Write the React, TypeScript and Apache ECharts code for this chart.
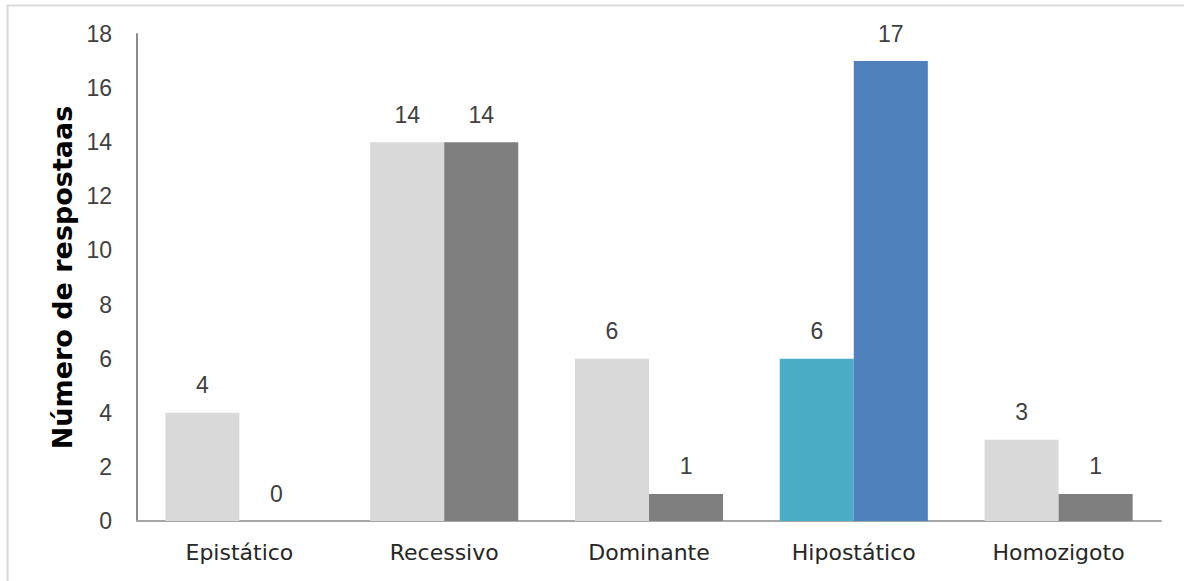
import React, { useEffect, useRef } from "react";
import * as echarts from "echarts";

const categories = ["Epistático", "Recessivo", "Dominante", "Hipostático", "Homozigoto"];
const seriesA = [4, 14, 6, 6, 3];
const seriesB = [0, 14, 1, 17, 1];
const colorsA = ["#d9d9d9", "#d9d9d9", "#d9d9d9", "#4bacc6", "#d9d9d9"];
const colorsB = ["#7f7f7f", "#7f7f7f", "#7f7f7f", "#4f81bd", "#7f7f7f"];
const yAxisTitle = "Número de respostaas";

const NUM_FONT = "'Liberation Sans', Arial, sans-serif";
const TEXT_FONT = "'DejaVu Sans', sans-serif";

export default function App() {
  const ref = useRef<HTMLDivElement>(null);

  useEffect(() => {
    if (!ref.current) return;
    const chart = echarts.init(ref.current, null, { renderer: "svg" });

    const label = {
      show: true,
      position: "top",
      distance: 16,
      color: "#404040",
      fontSize: 23,
      fontFamily: NUM_FONT,
    };

    chart.setOption({
      animation: false,
      backgroundColor: "#ffffff",
      grid: { left: 137, right: 23, top: 34, bottom: 60, containLabel: false },
      xAxis: {
        type: "category",
        data: categories,
        axisLine: { lineStyle: { color: "#a6a6a6", width: 2 } },
        axisTick: { show: false },
        axisLabel: { color: "#262626", fontSize: 22, margin: 20, fontFamily: TEXT_FONT },
      },
      yAxis: {
        type: "value",
        min: 0,
        max: 18,
        interval: 2,
        name: yAxisTitle,
        nameLocation: "middle",
        nameGap: 61,
        nameTextStyle: { fontSize: 27, fontWeight: "bold", color: "#000000", fontFamily: TEXT_FONT },
        axisLine: { show: true, lineStyle: { color: "#8c8c8c", width: 2 } },
        axisTick: { show: false },
        splitLine: { show: false },
        axisLabel: { color: "#404040", fontSize: 23, margin: 25, fontFamily: NUM_FONT },
      },
      series: [
        {
          type: "bar",
          barGap: "0%",
          barCategoryGap: "27.7%",
          data: seriesA.map((v, i) => ({ value: v, itemStyle: { color: colorsA[i] } })),
          label,
        },
        {
          type: "bar",
          barGap: "0%",
          barCategoryGap: "27.7%",
          data: seriesB.map((v, i) => ({ value: v, itemStyle: { color: colorsB[i] } })),
          label,
        },
      ],
      graphic: [
        { type: "line", shape: { x1: 7, y1: 5.5, x2: 1184, y2: 5.5 }, style: { stroke: "#d9d9d9", lineWidth: 2 } },
        { type: "line", shape: { x1: 7.5, y1: 5, x2: 7.5, y2: 581 }, style: { stroke: "#d9d9d9", lineWidth: 2 } },
      ],
    });

    return () => chart.dispose();
  }, []);

  return <div ref={ref} style={{ width: 1184, height: 581, position: "absolute", left: 0, top: 0 }} />;
}
